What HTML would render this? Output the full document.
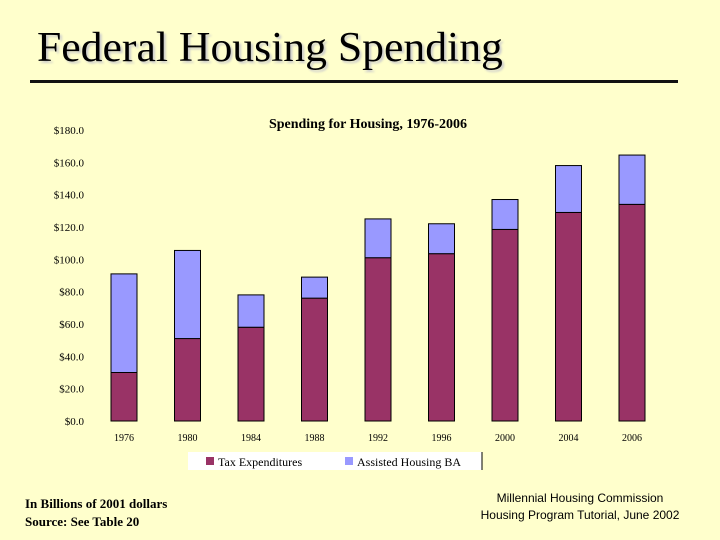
<!DOCTYPE html>
<html><head><meta charset="utf-8">
<style>
body{margin:0;width:720px;height:540px;background:#ffffcc;position:relative;overflow:hidden;font-family:"Liberation Serif",serif}
.abs{position:absolute}
</style></head><body>
<div class="abs" style="left:37px;top:24px;font-size:42px;color:#000;text-shadow:2px 2px 2px #ccc;white-space:nowrap;transform:scaleX(1.04);transform-origin:left top">Federal Housing Spending</div>
<div class="abs" style="left:30px;top:80px;width:648px;height:3px;background:#111"></div>
<svg class="abs" style="left:0;top:0" width="720" height="540">
<text x="368" y="128" text-anchor="middle" font-size="14" font-weight="bold" font-family="Liberation Serif">Spending for Housing, 1976-2006</text>
<g id="yaxis"></g><g id="bars"></g><g id="xaxis"></g>
<rect x="188" y="452" width="294" height="18" fill="#fff"/>
<line x1="482" y1="452" x2="482" y2="470" stroke="#000"/>
<rect x="206" y="457" width="8" height="8" fill="#993366"/>
<text x="218" y="466" font-size="12" font-family="Liberation Serif">Tax Expenditures</text>
<rect x="345" y="457" width="8" height="8" fill="#9999ff"/>
<text x="357" y="466" font-size="12" font-family="Liberation Serif">Assisted Housing BA</text>
</svg>
<div class="abs" style="left:25px;top:495px;font-size:13px;font-weight:bold;line-height:18px;font-family:'Liberation Serif',serif">In Billions of 2001 dollars<br>Source: See Table 20</div>
<div class="abs" style="left:460px;top:490px;width:240px;text-align:center;font-size:12px;line-height:17px;font-family:'Liberation Sans',sans-serif">Millennial Housing Commission<br>Housing Program Tutorial, June 2002</div>
<script>
const years=["1976","1980","1984","1988","1992","1996","2000","2004","2006"];
const taxExp=[30,51,58,76,101,103.5,118.5,129,134];
const assisted=[61,54.5,20,13,24,18.5,18.5,29,30.5];
const yTicks=[0,20,40,60,80,100,120,140,160,180];
const NS="http://www.w3.org/2000/svg";
const y0=421,y1=130,vmax=180;
const y=v=>y0-(v/vmax)*(y0-y1);
const xc=i=>124+i*63.5;
const bw=26;
function mk(t,a,p){const e=document.createElementNS(NS,t);for(const k in a)e.setAttribute(k,a[k]);p.appendChild(e);return e;}
const ya=document.getElementById('yaxis');
yTicks.forEach(v=>{const t=mk('text',{x:84,y:y(v)+4,'text-anchor':'end','font-size':11,'font-family':'Liberation Serif'},ya);


t.textContent='$'+v.toFixed(1);});
const bg=document.getElementById('bars'),xa=document.getElementById('xaxis');
years.forEach((yr,i)=>{
 const x=xc(i)-bw/2;
 const r1=mk('rect',{x:x,y:y(taxExp[i]),width:bw,height:y(0)-y(taxExp[i]),fill:'#993366',stroke:'#000','stroke-width':1},bg);
 
 
 const tot=taxExp[i]+assisted[i];
 const r2=mk('rect',{x:x,y:y(tot),width:bw,height:y(taxExp[i])-y(tot),fill:'#9999ff',stroke:'#000','stroke-width':1},bg);
 
 
 const t=mk('text',{x:xc(i),y:441,'text-anchor':'middle','font-size':10,'font-family':'Liberation Serif'},xa);
 
 
 t.textContent=yr;
});
</script>
</body></html>
